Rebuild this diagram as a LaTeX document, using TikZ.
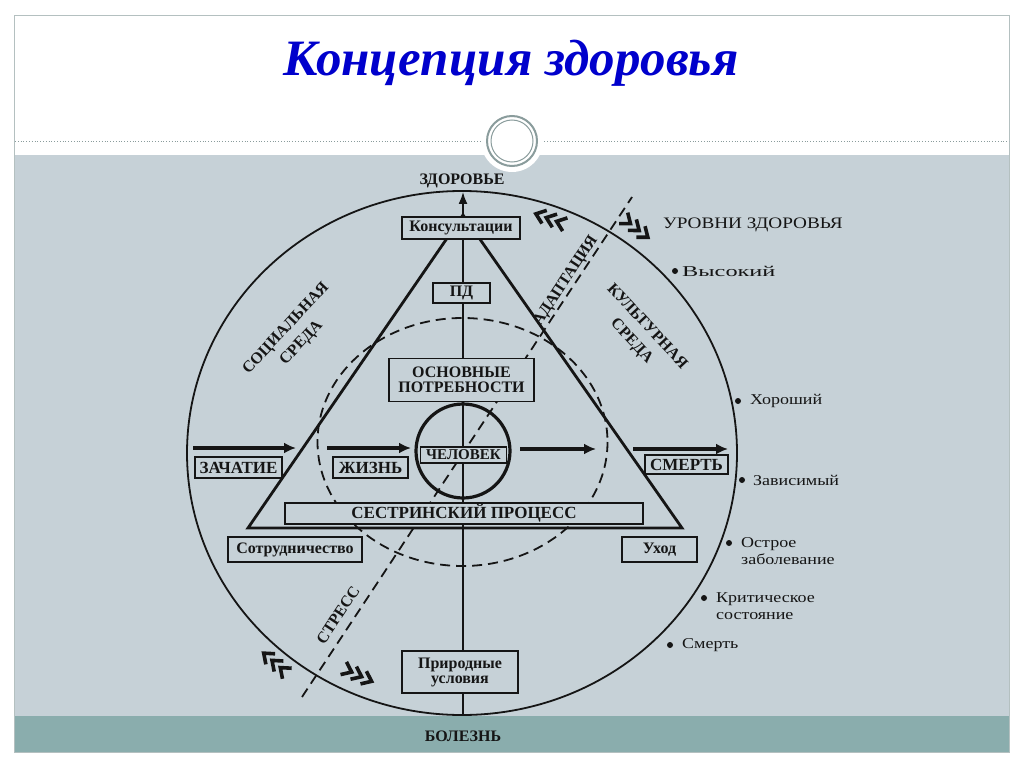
\documentclass[tikz,border=0pt]{standalone}
\usepackage{fontspec}
\setmainfont{Liberation Serif}
\newfontfamily\listfont[FakeStretch=1.2]{Liberation Serif}
\usetikzlibrary{arrows.meta}
\definecolor{bandgray}{HTML}{C6D1D7}
\definecolor{bandteal}{HTML}{8AADAD}
\definecolor{framegray}{HTML}{B4C0C0}
\definecolor{ringgray}{HTML}{8A9C9C}
\definecolor{titleblue}{HTML}{0000CC}
\definecolor{ink}{HTML}{151515}
\begin{document}
\begin{tikzpicture}[x=1pt,y=-1pt,
  box/.style={draw=ink, line width=1.9pt, fill=bandgray, inner sep=0pt, align=center,
    font=\bfseries\fontsize{16}{15}\selectfont, text=ink},
  lbl/.style={font=\bfseries\fontsize{16}{21}\selectfont, align=center, inner sep=0pt, text=ink},
  item/.style={font=\listfont\fontsize{15}{17}\selectfont, anchor=west, align=left, inner sep=0pt, text=ink},
  bul/.style={circle, fill=ink, inner sep=0pt, minimum size=6pt},
  thickarrow/.style={draw=ink, line width=3.5pt, -{Latex[length=12pt,width=11pt]}},
  chev/.pic={\foreach \i in {-11,0,11} \draw[ink, line width=3.6pt, line join=miter] (\i-5,-7) -- (\i+4,0) -- (\i-5,7);}
]
\useasboundingbox (0,0) rectangle (1024,767);
\fill[white] (0,0) rectangle (1024,767);
% slide frame and bands
\fill[bandgray] (15,155) rectangle (1009,716);
\fill[bandteal] (15,716) rectangle (1009,752);
\draw[framegray, line width=1pt] (14.5,15.5) rectangle (1009.5,752);
\draw[ringgray, dotted, line width=0.8pt] (15,141) -- (1009,141);
\fill[white] (512,141) circle (31);
\draw[ringgray, line width=2pt] (512,141) circle (25);
\draw[ringgray, line width=1pt] (512,141) circle (21);
% title
\node[anchor=base, inner sep=0pt, text=titleblue, font=\bfseries\itshape\fontsize{51}{55}\selectfont] (title) at (511,76) {Концепция здоровья};

% main geometry
\draw[ink, line width=1.8pt] (462,453) ellipse [x radius=275, y radius=262];
\draw[ink, line width=1.8pt, dash pattern=on 10pt off 6pt] (462.5,442) ellipse [x radius=145, y radius=124];
\coordinate (dA) at (302,697);
\coordinate (dB) at (632,197);
\draw[ink, line width=1.8pt, dash pattern=on 10pt off 6pt] (dA) -- (dB);
\coordinate (axB) at (463,715);
\coordinate (axT) at (463,192);
\draw[ink, line width=1.6pt, -{Latex[length=12pt,width=9pt]}] (axB) -- (axT);
\coordinate (tA) at (463,215);
\coordinate (tL) at (248,528);
\coordinate (tR) at (682,528);
\draw[ink, line width=2.8pt, line join=miter] (tA) -- (tL) -- (tR) -- cycle;
\draw[ink, line width=3.2pt] (463,451) circle (47);

% thick arrows
\coordinate (a1s) at (193,448); \coordinate (a1e) at (296,448);
\coordinate (a2s) at (327,448); \coordinate (a2e) at (411,448);
\coordinate (a3s) at (520,449); \coordinate (a3e) at (596,449);
\coordinate (a4s) at (633,449); \coordinate (a4e) at (728,449);
\draw[thickarrow] (a1s) -- (a1e);
\draw[thickarrow] (a2s) -- (a2e);
\draw[thickarrow] (a3s) -- (a3e);
\draw[thickarrow] (a4s) -- (a4e);

% boxes
\node[box, minimum width=118, minimum height=22] (kons) at (461,228) {Консультации};
\node[box, minimum width=57, minimum height=20] (pd) at (461.5,293) {ПД};
\node[box, minimum width=145, minimum height=43] (osn) at (461.5,380) {ОСНОВНЫЕ\\ПОТРЕБНОСТИ};
\node[box, minimum width=86, minimum height=16, font=\bfseries\fontsize{15}{15}\selectfont] (chel) at (463.5,455) {ЧЕЛОВЕК};
\node[box, minimum width=87, minimum height=21, font=\bfseries\fontsize{17}{17}\selectfont] (zach) at (238.5,467.5) {ЗАЧАТИЕ};
\node[box, minimum width=75, minimum height=21, font=\bfseries\fontsize{17}{17}\selectfont] (zhizn) at (370.5,467.5) {ЖИЗНЬ};
\node[box, minimum width=83, minimum height=19, font=\bfseries\fontsize{17}{17}\selectfont] (smert) at (686.5,464.5) {СМЕРТЬ};
\node[box, minimum width=358, minimum height=21, font=\bfseries\fontsize{17}{17}\selectfont] (sestr) at (464,513.5) {СЕСТРИНСКИЙ ПРОЦЕСС};
\node[box, minimum width=134, minimum height=25] (sotr) at (295,549.5) {Сотрудничество};
\node[box, minimum width=75, minimum height=25] (uhod) at (659.5,549.5) {Уход};
\node[box, minimum width=116, minimum height=42] (prir) at (460,672) {Природные\\условия};

% end labels
\node[lbl] (zdor) at (462,181) {ЗДОРОВЬЕ};
\node[lbl] (bol) at (463,736) {БОЛЕЗНЬ};

% rotated labels
\node[lbl, rotate=47] (soc) at (294,336) {СОЦИАЛЬНАЯ\\СРЕДА};
\node[lbl, rotate=-47] (kult) at (639,334) {КУЛЬТУРНАЯ\\СРЕДА};
\node[lbl, rotate=56.6] (adapt) at (566,281) {АДАПТАЦИЯ};
\node[lbl, rotate=56.6] (stress) at (338,615) {СТРЕСС};

% chevrons
\pic[rotate=160] (c1) at (550,219) {chev};
\pic[rotate=-38] (c2) at (636,228) {chev};
\pic[rotate=139] (c3) at (275,663) {chev};
\pic[rotate=-25] (c4) at (358,675) {chev};

% levels of health
\node[item, font=\listfont\fontsize{16}{16}\selectfont] (lev) at (663,225) {УРОВНИ ЗДОРОВЬЯ};
\node[bul] (b1) at (675,271) {};
\node[item] (t1) at (682,271) {\scalebox{1.35}[1]{Высокий}};
\node[bul] (b2) at (738,401) {};
\node[item] (t2) at (750,401) {Хороший};
\node[bul] (b3) at (742,480) {};
\node[item] (t3) at (753,480) {Зависимый};
\node[bul] (b4) at (729,543) {};
\node[item] (t4) at (741,551.5) {Острое\\заболевание};
\node[bul] (b5) at (704,598) {};
\node[item] (t5) at (716,606.5) {Критическое\\состояние};
\node[bul] (b6) at (670,645) {};
\node[item] (t6) at (682,645) {Смерть};
\end{tikzpicture}
\end{document}
